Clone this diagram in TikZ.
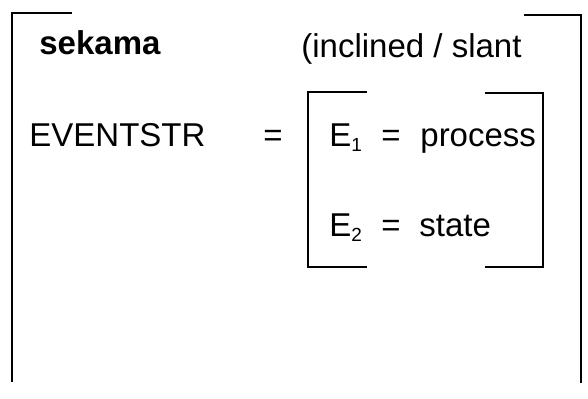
\documentclass[tikz,border=0pt]{standalone}
\usepackage{fontspec}
\setmainfont{Liberation Sans}
\begin{document}
\begin{tikzpicture}[x=0.5pt,y=-0.5pt,
    lbl/.style={anchor=base west,inner sep=0pt,font=\fontsize{16.5}{20}\selectfont},
    brk/.style={line width=1pt}]
      \fill[white] (0,0) rectangle (588,398);
      \useasboundingbox (0,0) rectangle (588,398);

      % Outer bracket round the whole entry
      \draw[brk] (72,13) -- (12,13) -- (12,382);
      \draw[brk] (524,15) -- (581,15) -- (581,383);

      % Headword and its gloss
      \node[lbl,font=\fontsize{16.5}{20}\selectfont\bfseries] (head) at (39,54.3) {sekama};
      \node[lbl] (gloss) at (301,57) {(inclined / slant};

      % Event structure
      \node[lbl] (evstr) at (29,146.5) {EVENTSTR};
      \node[lbl] (eq) at (263,146.5) {=};

      % Inner bracket with the two subevents
      \draw[brk] (367,92) -- (308,92) -- (308,267) -- (367,267);
      \draw[brk] (485,93) -- (543,93) -- (543,267) -- (485,267);

      \node[lbl] (e1) at (329,146) {E{\fontsize{9.5}{10}\selectfont\raisebox{-2.85pt}{1}}};
      \node[lbl] (eqa) at (381,146) {=};
      \node[lbl] (proc) at (420,146) {process};

      \node[lbl] (e2) at (329,236) {E{\fontsize{9.5}{10}\selectfont\raisebox{-2.85pt}{2}}};
      \node[lbl] (eqb) at (381,236) {=};
      \node[lbl] (state) at (419,236) {state};
    \end{tikzpicture}
\end{document}
